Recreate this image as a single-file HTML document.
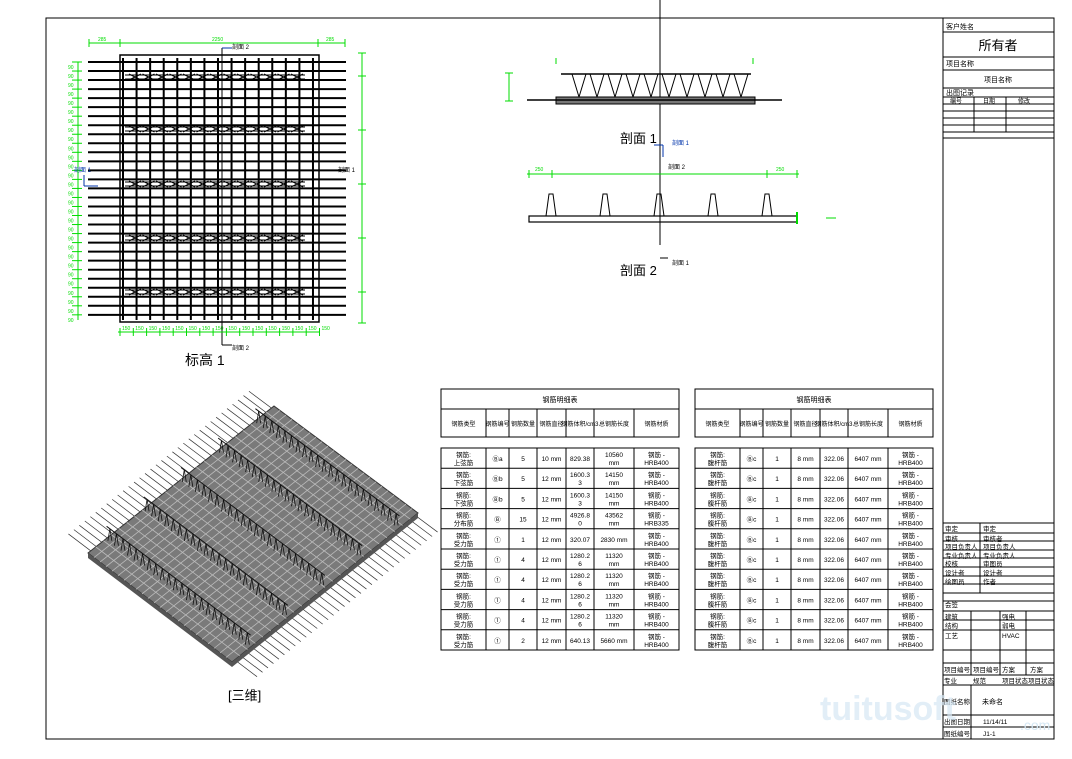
<!DOCTYPE html>
<html><head><meta charset="utf-8"><style>
html,body{margin:0;padding:0;background:#fff;}
#wrap{position:relative;width:1072px;height:759px;overflow:hidden;background:#fff;font-family:"Liberation Sans","Noto Sans CJK SC",sans-serif;}
svg{position:absolute;left:0;top:0;}
.t{font-family:"Liberation Sans","Noto Sans CJK SC",sans-serif;}
</style></head><body><div id="wrap">
<svg id="s" width="1072" height="759" viewBox="0 0 1072 759" xmlns="http://www.w3.org/2000/svg">
<rect x="46" y="18" width="1008" height="721" fill="none" stroke="#000" stroke-width="1"/>
<line x1="660" y1="0" x2="660" y2="245" stroke="#000" stroke-width="1"/>
<g id="plan"></g>
<g id="sec"></g>
<g id="iso"></g>
<g id="tbl"></g>
<g id="tb"></g>
<text x="185" y="365" font-size="14" class="t">标高 1</text>
<text x="620" y="143" font-size="13" class="t">剖面 1</text>
<text x="620" y="275" font-size="13" class="t">剖面 2</text>
<text x="228" y="700" font-size="13" class="t">[三维]</text>
<text x="232" y="49" font-size="6" fill="#000" class="t">剖面 2</text>
<text x="232" y="350" font-size="6" class="t">剖面 2</text>
<text x="74" y="172" font-size="6" fill="#0033aa" class="t">剖面 1</text>
<text x="338" y="172" font-size="6" class="t">剖面 1</text>
<text x="672" y="145" font-size="6" fill="#0033aa" class="t">剖面 1</text>
<text x="668" y="169" font-size="6" class="t">剖面 2</text>
<text x="672" y="265" font-size="6" class="t">剖面 1</text>
<text x="820" y="720" font-size="34" fill="#d6e8f4" font-weight="bold" class="t" opacity="0.7">tuitusoft</text>
<text x="1020" y="730" font-size="14" fill="#d6e8f4" class="t">.com</text>
</svg>
</div>
<script>
var NS="http://www.w3.org/2000/svg";
function el(p,n,a,txt){var e=document.createElementNS(NS,n);for(var k in a)e.setAttribute(k,a[k]);if(txt!==undefined)e.textContent=txt;document.getElementById(p).appendChild(e);return e;}
function L(p,x1,y1,x2,y2,c,w){return el(p,"line",{x1:x1,y1:y1,x2:x2,y2:y2,stroke:c||"#000","stroke-width":w||1});}
var G="#00dd00";
// plan
el("plan","rect",{x:120,y:55,width:199,height:267,fill:"none",stroke:"#000","stroke-width":1.5});
for(var i=0;i<29;i++){var y=62+i*9.03;L("plan",88,y,346,y,"#000",2);}
for(var i=0;i<15;i++){var x=123+i*13.57;L("plan",x,58,x,320,"#000",2);}
[77,129,184,238,292].forEach(function(y){
 L("plan",125,y-2,305,y-2,"#000",1);L("plan",125,y+2,305,y+2,"#000",1);
 for(var x=135;x<300;x+=13.5){L("plan",x-6,y-3,x+6,y+3,"#000",1);L("plan",x-6,y+3,x+6,y-3,"#000",1);}
});
L("plan",222,48,222,345,"#000",1);L("plan",222,48,232,48,"#0033aa",1);L("plan",222,345,232,345,"#000",1);
L("plan",84,186,98,186,"#0033aa",1);L("plan",84,175,84,186,"#0033aa",1);
// dims
L("plan",89,43,345,43,G);[89,120,318,345].forEach(function(x){L("plan",x,39,x,47,G);});
el("plan","text",{x:98,y:41,"font-size":5,fill:G},"285");el("plan","text",{x:212,y:41,"font-size":5,fill:G},"2250");el("plan","text",{x:326,y:41,"font-size":5,fill:G},"285");
L("plan",362,53,362,323,G);[53,76,130,184,238,292,323].forEach(function(y){L("plan",358,y,366,y,G);});
L("plan",118,332,320,332,G);for(var i=0;i<16;i++){var x=120+i*13.3;L("plan",x,328,x,336,G);el("plan","text",{x:x+2,y:330,"font-size":5,fill:G},"150");}
L("plan",78,62,78,320,G);for(var i=0;i<29;i++){var y=62+i*9.03;L("plan",72,y,82,y,G);el("plan","text",{x:68,y:y+7,"font-size":5,fill:G},"90");}
// section 1
L("sec",561,74,751,74,"#000",1.5);
el("sec","rect",{x:556,y:97,width:199,height:7,fill:"#777",stroke:"#000"});
L("sec",527,100,782,100,"#000",1.5);
for(var i=0;i<10;i++){var x=572+i*18;L("sec",x,74,x+7,97);L("sec",x+7,97,x+14,74);}
L("sec",509,73,509,101,G);L("sec",505,73,513,73,G);L("sec",505,101,513,101,G);
L("sec",556,58,556,64,G);L("sec",753,58,753,64,G);
L("sec",654,145,663,145,"#0033aa");L("sec",663,145,663,157,"#0033aa");
// section 2
L("sec",527,174,799,174,G);[529,552,767,797].forEach(function(x){L("sec",x,170,x,178,G);});
el("sec","text",{x:535,y:171,"font-size":5,fill:G},"250");el("sec","text",{x:776,y:171,"font-size":5,fill:G},"250");
el("sec","rect",{x:529,y:216,width:268,height:6,fill:"none",stroke:"#000","stroke-width":1.2});
[551,605,659,713,767].forEach(function(x){el("sec","polyline",{points:(x-5)+",216 "+(x-2)+",194 "+(x+2)+",194 "+(x+5)+",216",fill:"none",stroke:"#000"});});
L("sec",797,212,797,224,G,2);L("sec",826,218,836,218,G);
L("sec",660,258,668,258);
// iso  A left, B top, C right, D bottom
var A=[88,553],B=[274,406],C=[418,513],D=[232,662];
var dx=D[0]-A[0],dy=D[1]-A[1],dl=Math.sqrt(dx*dx+dy*dy);dx/=dl;dy/=dl;
// rebars parallel to A->D, protruding beyond AB and CD edges
for(var i=0;i<34;i++){var t=(i+0.5)/34;
 var px=A[0]+(B[0]-A[0])*t,py=A[1]+(B[1]-A[1])*t;
 var qx=D[0]+(C[0]-D[0])*t,qy=D[1]+(C[1]-D[1])*t;
 L("iso",px-dx*28,py-dy*28,qx+dx*28,qy+dy*28,"#333",0.7);}
el("iso","polygon",{points:A.join()+" "+B.join()+" "+C.join()+" "+D.join(),fill:"#7a7a7a",stroke:"#333"});
el("iso","polygon",{points:"88,553 232,662 232,667 88,558",fill:"#555"});
el("iso","polygon",{points:"232,662 418,513 418,518 232,667",fill:"#555"});
for(var i=1;i<24;i++){var t=i/24;L("iso",A[0]+(B[0]-A[0])*t,A[1]+(B[1]-A[1])*t,D[0]+(C[0]-D[0])*t,D[1]+(C[1]-D[1])*t,"#bbb",0.8);
 L("iso",A[0]+(D[0]-A[0])*t,A[1]+(D[1]-A[1])*t,B[0]+(C[0]-B[0])*t,B[1]+(C[1]-B[1])*t,"#bbb",0.8);}
// trusses parallel to A->D, spaced along A->B
for(var k=0;k<5;k++){var s=(k+0.5)/5;
 var x1=A[0]+(B[0]-A[0])*s,y1=A[1]+(B[1]-A[1])*s,x2=D[0]+(C[0]-D[0])*s,y2=D[1]+(C[1]-D[1])*s;
 for(var j=0;j<22;j++){var u=(j+0.5)/22;var x=x1+(x2-x1)*u,y=y1+(y2-y1)*u;
  L("iso",x-2,y,x,y-12,"#111",0.8);L("iso",x,y-12,x+2,y,"#111",0.8);}
 L("iso",x1,y1-12,x2,y2-12,"#111",1);}
// tables
function table(x0,rows){
 var cx=[0,45,68,96,125,153,193,238];
 el("tbl","rect",{x:x0,y:389,width:238,height:48,fill:"none",stroke:"#000"});
 L("tbl",x0,409,x0+238,409);
 for(var i=1;i<7;i++)L("tbl",x0+cx[i],409,x0+cx[i],437);
 el("tbl","text",{x:x0+119,y:402,"font-size":7,"text-anchor":"middle",class:"t"},"钢筋明细表");
 var hd=["钢筋类型","钢筋编号","钢筋数量","钢筋直径","钢筋体积/cm3","总钢筋长度","钢筋材质"];
 hd.forEach(function(h,i){el("tbl","text",{x:x0+(cx[i]+cx[i+1])/2,y:426,"font-size":6,"text-anchor":"middle",class:"t"},h);});
 el("tbl","rect",{x:x0,y:448,width:238,height:202,fill:"none",stroke:"#000"});
 for(var r=1;r<10;r++)L("tbl",x0,448+r*20.2,x0+238,448+r*20.2);
 for(var i=1;i<7;i++)L("tbl",x0+cx[i],448,x0+cx[i],650);
 rows.forEach(function(row,r){var y=448+r*20.2;
  row.forEach(function(c,i){var parts=c.split("|");parts.forEach(function(p,k){
   el("tbl","text",{x:x0+(cx[i]+cx[i+1])/2,y:y+(parts.length==1?13:9+k*8),"font-size":6.5,"text-anchor":"middle",class:"t"},p);});});});
}
var r1=[["钢筋:|上弦筋","Ⓑa","5","10 mm","829.38","10560|mm","钢筋 -|HRB400"],
["钢筋:|下弦筋","Ⓑb","5","12 mm","1600.3|3","14150|mm","钢筋 -|HRB400"],
["钢筋:|下弦筋","Ⓑb","5","12 mm","1600.3|3","14150|mm","钢筋 -|HRB400"],
["钢筋:|分布筋","Ⓑ","15","12 mm","4926.8|0","43562|mm","钢筋 -|HRB335"],
["钢筋:|受力筋","①","1","12 mm","320.07","2830 mm","钢筋 -|HRB400"],
["钢筋:|受力筋","①","4","12 mm","1280.2|6","11320|mm","钢筋 -|HRB400"],
["钢筋:|受力筋","①","4","12 mm","1280.2|6","11320|mm","钢筋 -|HRB400"],
["钢筋:|受力筋","①","4","12 mm","1280.2|6","11320|mm","钢筋 -|HRB400"],
["钢筋:|受力筋","①","4","12 mm","1280.2|6","11320|mm","钢筋 -|HRB400"],
["钢筋:|受力筋","①","2","12 mm","640.13","5660 mm","钢筋 -|HRB400"]];
var r2=[];for(var i=0;i<10;i++)r2.push(["钢筋:|腹杆筋","Ⓑc","1","8 mm","322.06","6407 mm","钢筋 -|HRB400"]);
table(441,r1);table(695,r2);
// title block
var tx=943,tw=111;
L("tb",tx,18,tx,739);
[32,57,70,88,97].forEach(function(y){L("tb",tx,y,tx+tw,y);});
el("tb","text",{x:946,y:29,"font-size":7,class:"t"},"客户姓名");
el("tb","text",{x:998,y:50,"font-size":13,"text-anchor":"middle",class:"t"},"所有者");
el("tb","text",{x:946,y:66,"font-size":7,class:"t"},"项目名称");
el("tb","text",{x:998,y:82,"font-size":7,"text-anchor":"middle",class:"t"},"项目名称");
el("tb","text",{x:946,y:95,"font-size":7,class:"t"},"出图记录");
[104,111,118,125,132,138].forEach(function(y){L("tb",tx,y,tx+tw,y);});
L("tb",974,97,974,132);L("tb",1006,97,1006,132);
el("tb","text",{x:950,y:103,"font-size":6,class:"t"},"编号");el("tb","text",{x:983,y:103,"font-size":6,class:"t"},"日期");el("tb","text",{x:1018,y:103,"font-size":6,class:"t"},"修改");
var ys=[523,533,541,550,558,567,576,584,593,601,611,620,630,650,663,675,685,715,727];
ys.forEach(function(y){L("tb",tx,y,tx+tw,y);});
L("tb",980,523,980,593);
var lab=["审定","审核","项目负责人","专业负责人","校核","设计者","绘图员"],val=["审定","审核者","项目负责人","专业负责人","审图员","设计者","作者"];
for(var i=0;i<7;i++){el("tb","text",{x:945,y:ys[i]+8,"font-size":6.5,class:"t"},lab[i]);el("tb","text",{x:983,y:ys[i]+8,"font-size":6.5,class:"t"},val[i]);}
el("tb","text",{x:945,y:607,"font-size":6.5,class:"t"},"会签");
L("tb",971,611,971,675);L("tb",1000,611,1000,675);L("tb",1026,611,1026,675);
[["建筑","强电"],["结构","弱电"],["工艺","HVAC"]].forEach(function(p,i){el("tb","text",{x:945,y:ys[10+i]+8,"font-size":6.5,class:"t"},p[0]);el("tb","text",{x:1002,y:ys[10+i]+8,"font-size":6.5,class:"t"},p[1]);});
el("tb","text",{x:944,y:672,"font-size":6.5,class:"t"},"项目编号");el("tb","text",{x:973,y:672,"font-size":6.5,class:"t"},"项目编号");el("tb","text",{x:1002,y:672,"font-size":6.5,class:"t"},"方案");el("tb","text",{x:1030,y:672,"font-size":6.5,class:"t"},"方案");
el("tb","text",{x:944,y:683,"font-size":6.5,class:"t"},"专业");el("tb","text",{x:973,y:683,"font-size":6.5,class:"t"},"规范");el("tb","text",{x:1002,y:683,"font-size":6.5,class:"t"},"项目状态");el("tb","text",{x:1028,y:683,"font-size":6.5,class:"t"},"项目状态");
L("tb",971,685,971,739);
el("tb","text",{x:944,y:704,"font-size":6.5,class:"t"},"图纸名称");el("tb","text",{x:982,y:704,"font-size":7,class:"t"},"未命名");
el("tb","text",{x:944,y:724,"font-size":6.5,class:"t"},"出图日期");el("tb","text",{x:983,y:724,"font-size":6.5,class:"t"},"11/14/11");
el("tb","text",{x:944,y:736,"font-size":6.5,class:"t"},"图纸编号");el("tb","text",{x:983,y:736,"font-size":6.5,class:"t"},"J1-1");
</script>
</body></html>
